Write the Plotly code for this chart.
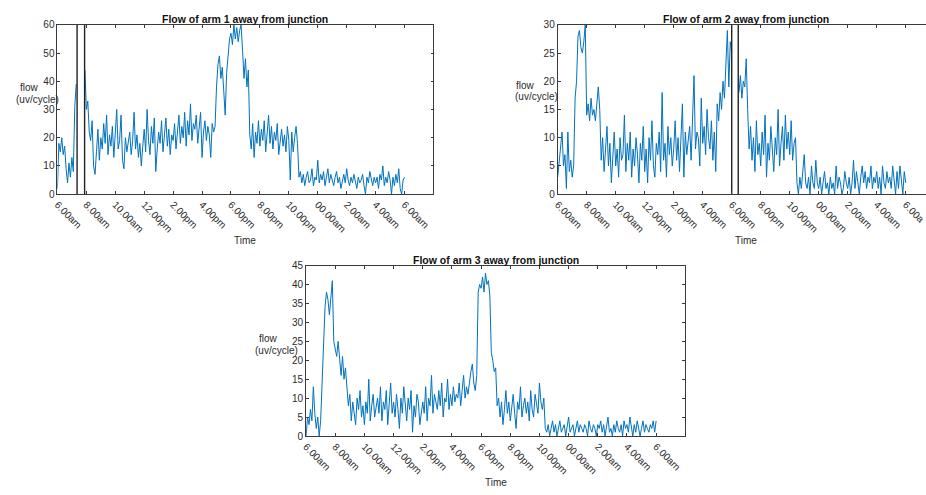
import plotly.graph_objects as go

# ---------------- data ----------------
N = None
# time in hours after 6.00am, one sample every 0.1 h
hours = [i / 10 for i in range(241)]

tick_hours = [0, 2, 4, 6, 8, 10, 12, 14, 16, 18, 20, 22, 24, 26]
tick_labels = ["6.00am", "8.00am", "10.00am", "12.00pm", "2.00pm", "4.00pm",
               "6.00pm", "8.00pm", "10.00pm", "00.00am", "2.00am", "4.00am",
               "6.00am", ""]
# arm 2 panel is cut by the right edge of the picture: last label is cut short
tick_labels_arm2 = tick_labels[:12] + ["6.00a", ""]

arm1_flow = [
    2, 18, 15, 20, 14, 17, 9, 4, 11, 6,
    13, 8, 31, 39, N, N, N, N, N, 44,
    30, 33, 22, 19, 26, 10, 7, 15, 23, 12,
    20, 16, 25, 18, 28, 14, 21, 17, 24, 13,
    22, 30, 16, 19, 28, 12, 9, 20, 15, 18,
    22, 14, 19, 29, 16, 21, 13, 18, 10, 17,
    23, 15, 30, 19, 14, 24, 18, 27, 8, 16,
    22, 18, 26, 15, 20, 27, 17, 23, 14, 21,
    19, 25, 16, 22, 28, 18, 24, 20, 29, 17,
    26, 21, 32, 19, 25, 23, 28, 18, 24, 29,
    13, 22, 26, 19, 24, 21, 13, 25, 22, 24,
    38, 46, 49, 41, 45, 36, 28, 43, 50, 55,
    57, 53, 60, 55, 59, 54, 58, 60, 51, 41,
    48, 38, 44, 21, 16, 25, 13, 22, 18, 26,
    17, 23, 19, 26, 15, 21, 28, 18, 24, 16,
    22, 19, 25, 14, 20, 23, 17, 21, 15, 24,
    19, 5, 22, 15, 20, 24, 18, 6, 8, 4,
    7, 3, 6, 8, 4, 5, 9, 3, 6, 5,
    12, 4, 7, 5, 8, 3, 6, 9, 4, 7,
    5, 3, 6, 8, 4, 6, 2, 5, 7, 4,
    9, 5, 3, 6, 4, 7, 5, 2, 6, 4,
    5, 7, 3, 0, 6, 4, 8, 5, 3, 6,
    4, 6, 2, 7, 5, 10, 3, 6, 4, 8,
    5, 0, 6, 3, 7, 4, 9, 2, 0, 5,
    6,
]

arm2_flow = [
    3, 6, 8, 11, 5, 7, 1, 11, 4, 6,
    3, 5, 17, 20, 28, 29, 26, 25, 27, 30,
    14, 16, 13, 17, 14, 15, 13, 16, 19, 15,
    6, 10, 4, 8, 12, 5, 9, 2, 7, 11,
    5, 8, 3, 10, 6, 7, 14, 4, 9, 6,
    11, 3, 8, 5, 10, 7, 2, 9, 6, 12,
    4, 8, 2, 10, 6, 13, 5, 3, 9, 7,
    11, 4, 18, 6, 9, 3, 12, 7, 10, 5,
    8, 13, 6, 10, 4, 9, 16, 3, 11, 7,
    9, 12, 6, 14, 21, 8, 11, 10, 5, 17,
    9, 12, 7, 15, 10, 8, 13, 6, 11, 4,
    16, 13, 18, 15, 20, 17, 22, 29, 19, 27,
    25, N, N, N, N, 18, 21, 17, 20, 19,
    24, 15, 8, 12, 6, 10, 4, 13, 7, 9,
    5, 11, 7, 14, 3, 9, 6, 12, 8, 4,
    10, 7, 15, 5, 9, 12, 6, 14, 8, 11,
    7, 13, 6, 9, 10, 2, 0, 3, 1, 4,
    7, 2, 1, 3, 0, 5, 2, 1, 6, 2,
    1, 3, 0, 2, 4, 1, 2, 0, 3, 1,
    2, 0, 5, 1, 3, 2, 0, 1, 4, 2,
    1, 3, 0, 2, 6, 1, 4, 2, 0, 3,
    5, 2, 4, 1, 3, 2, 5, 1, 3, 2,
    4, 1, 3, 0, 5, 2, 1, 4, 2, 3,
    1, 5, 2, 0, 4, 1, 5, 3, 0, 4,
    2,
]

arm3_flow = [
    0, 5, 3, 7, 4, 13, 6, 2, 5, 0,
    4, 16, 24, 34, 38, 36, 32, 37, 41, 25,
    23, 21, 25, 19, 16, 21, 15, 18, 12, 8,
    11, 4, 9, 6, 3, 10, 7, 12, 5, 8,
    3, 9, 6, 15, 4, 8, 11, 5, 7, 10,
    6, 13, 4, 9, 7, 12, 3, 8, 14, 6,
    9, 5, 11, 7, 2, 10, 6, 13, 8, 4,
    10, 7, 12, 1, 8, 5, 11, 9, 3, 7,
    9, 6, 13, 4, 10, 8, 16, 6, 11, 9,
    7, 12, 8, 14, 5, 10, 9, 15, 7, 11,
    8, 13, 9, 11, 10, 14, 8, 12, 16, 10,
    13, 11, 15, 17, 19, 14, 12, 16, 38, 40,
    39, 42, 38, 43, 40, 41, 37, 22, 20, 17,
    18, 8, 10, 5, 9, 3, 7, 12, 6, 9,
    4, 8, 11, 6, 2, 9, 7, 13, 5, 8,
    10, 6, 9, 4, 12, 7, 5, 11, 8, 6,
    14, 9, 7, 10, 2, 1, 3, 0, 2, 4,
    1, 3, 0, 2, 4, 1, 2, 3, 0, 2,
    5, 1, 2, 3, 0, 2, 4, 1, 3, 2,
    1, 3, 2, 0, 4, 2, 1, 3, 2, 0,
    3, 2, 4, 1, 3, 0, 2, 5, 1, 2,
    0, 3, 1, 4, 2, 1, 3, 0, 4, 2,
    3, 1, 5, 2, 0, 3, 1, 4, 2, 0,
    2, 4, 1, 3, 2, 1, 3, 2, 4, 1,
    4,
]

# black vertical marker lines (hours)
arm1_markers = [1.36, 1.88]
arm2_markers = [12.0, 12.45]

y_max = [60, 30, 45]
titles = ["Flow of arm 1 away from junction",
          "Flow of arm 2 away from junction",
          "Flow of arm 3 away from junction"]

# ---------------- layout ----------------
W, H = 926, 495
FONT = "Liberation Sans, Arial, Helvetica, sans-serif"
TXT = "#2b2b2b"
AX = "#3a3a3a"
BLUE = "#0072BD"

def px_x(p):
    return p / W

def px_y(p):
    return 1 - p / H

fig = go.Figure()

series = [arm1_flow, arm2_flow, arm3_flow]
markers = [arm1_markers, arm2_markers, []]
for k in range(3):
    ax = "" if k == 0 else str(k + 1)
    fig.add_trace(go.Scatter(x=hours, y=series[k], mode="lines",
                             line=dict(color=BLUE, width=1.0),
                             connectgaps=False, showlegend=False,
                             xaxis="x" + ax, yaxis="y" + ax, hoverinfo="skip"))
    for m in markers[k]:
        fig.add_trace(go.Scatter(x=[m, m], y=[0, y_max[k]], mode="lines",
                                 line=dict(color="#222222", width=1.4),
                                 showlegend=False, xaxis="x" + ax, yaxis="y" + ax,
                                 hoverinfo="skip"))

# pixel geometry of each panel: left, right, top, bottom, x range end
panels = [
    (52.7, 430.8, 19.3, 192.8, 26.0),
    (555.7, 926.0, 19.3, 192.8, (926.0 - 555.7) / 14.58),
    (302.7, 684.0, 266.0, 440.7, 26.0),
]
panel_ticktext = [tick_labels, tick_labels_arm2, tick_labels]

axis_common = dict(showline=True, linecolor=AX, linewidth=0.9, ticks="inside",
                   ticklen=3, tickcolor=AX, showgrid=False, zeroline=False,
                   tickfont=dict(family=FONT, size=10, color=TXT))

layout = dict(width=W, height=H, margin=dict(l=0, r=0, t=0, b=0),
              paper_bgcolor="white", plot_bgcolor="white", showlegend=False)

annotations = []
for k, (l, r, t, b, xr) in enumerate(panels):
    sx = "" if k == 0 else str(k + 1)
    layout["xaxis" + sx] = dict(axis_common, domain=[px_x(l), px_x(r)],
                                range=[0, xr], tickmode="array",
                                tickvals=tick_hours, ticktext=panel_ticktext[k],
                                tickangle=45, mirror="ticks",
                                ticklabeloverflow="allow",
                                anchor="y" + sx)
    layout["yaxis" + sx] = dict(axis_common, domain=[px_y(b), px_y(t)],
                                range=[0, y_max[k]], dtick=5 if k else 10,
                                mirror="ticks" if k != 1 else False,
                                anchor="x" + sx)
    full_right = l + (r - l) * 26.0 / xr
    cx = (l + full_right) / 2
    annotations.append(dict(text="<b>" + titles[k] + "</b>", x=px_x(cx), y=px_y(t - 6),
                            xref="paper", yref="paper", showarrow=False,
                            xanchor="center", yanchor="middle",
                            font=dict(family=FONT, size=10.5, color="#111111")))
    annotations.append(dict(text="Time", x=px_x(cx), y=px_y(b + 48),
                            xref="paper", yref="paper", showarrow=False,
                            xanchor="center", yanchor="middle",
                            font=dict(family=FONT, size=10, color=TXT)))

ylabel_pos = [((13, 83.3), (9.3, 96)), ((511.7, 81.7), (510.7, 92.7)),
              ((253.3, 340.7), (249.5, 353.0))]
for (fx, fy), (ux, uy) in ylabel_pos:
    annotations.append(dict(text="flow", x=px_x(fx), y=px_y(fy), xref="paper",
                            yref="paper", showarrow=False, xanchor="left",
                            yanchor="middle", font=dict(family=FONT, size=10, color=TXT)))
    annotations.append(dict(text="(uv/cycle)", x=px_x(ux), y=px_y(uy), xref="paper",
                            yref="paper", showarrow=False, xanchor="left",
                            yanchor="middle", font=dict(family=FONT, size=10, color=TXT)))

layout["annotations"] = annotations
fig.update_layout(**layout)
fig.write_html("out.html")
